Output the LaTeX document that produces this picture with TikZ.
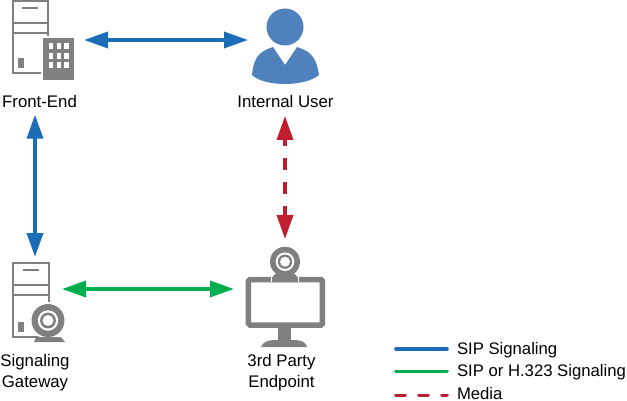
\documentclass[tikz,border=0pt]{standalone}
\usepackage{fontspec}
\setmainfont{Liberation Sans}
\usetikzlibrary{arrows.meta}

\definecolor{sipblue}{HTML}{1B6DB8}
\definecolor{sipgreen}{HTML}{00AE4F}
\definecolor{mediared}{HTML}{BE1E2D}
\definecolor{usercolor}{HTML}{4F81BD}
\definecolor{icongray}{HTML}{808080}

\tikzset{
    spot/.style = {inner sep=0pt, outer sep=0pt},
    caption/.style = {inner sep=0pt, outer sep=0pt, align=center, font=\fontsize{16.8}{21}\selectfont},
    keytext/.style = {inner sep=0pt, outer sep=0pt, anchor=base west, font=\fontsize{16.7}{20}\selectfont},
    link/.style = {line width=3.6pt, {Triangle[length=24pt,width=16pt]}-{Triangle[length=24pt,width=16pt]}},
    sip/.style = {link, sipblue},
    h323/.style = {link, sipgreen},
    media/.style = {link, mediared, dash pattern=on 12pt off 12pt, dash phase=5pt},
    keyline/.style = {line width=3.6pt, line cap=round},
    iconline/.style = {draw=icongray, line width=2pt},
    iconfill/.style = {fill=icongray},
}

% tower case, #1 = left, #2 = top, #3 = bottom
\newcommand{\towercase}[3]{
    \draw[iconline] (#1,#2) rectangle (#1+35.5,#3);
    \draw[iconline] (#1,#2+22) -- (#1+35.5,#2+22);
    \draw[iconline] (#1,#2+32) -- (#1+35.5,#2+32);
    \draw[iconline] (#1+9.5,#2+7) -- (#1+25.5,#2+7);
    \fill[iconfill] (#1+5,#3-15) rectangle (#1+11,#3-5);
}

% webcam ball, #1 = x, #2 = y, #3 = radius
\newcommand{\camball}[3]{
    \fill[iconfill] (#1,#2) circle (#3);
    \fill[white] (#1,#2) circle (#3*0.62);
    \fill[iconfill] (#1,#2) circle (#3*0.48);
    \fill[white] (#1,#2) circle (#3*0.33);
}

\begin{document}
\begin{tikzpicture}[x=1pt, y=-1pt]
    \useasboundingbox (0,0) rectangle (627,401);

    % anchor boxes for the icons
    \node[spot, minimum width=84pt, minimum height=76pt] (frontend) at (42,40) {};
    \node[spot, minimum width=76pt, minimum height=84pt] (user) at (286,40) {};
    \node[spot, minimum width=54pt, minimum height=64pt] (gateway) at (35,289) {};
    \node[spot, minimum width=102pt, minimum height=100pt] (endpoint) at (285,289) {};

    % front end server and building
    \towercase{12.5}{1}{73}
    \fill[white] (41,36) rectangle (75,82);
    \fill[iconfill] (43.3,38.3) rectangle (73.5,80);
    \foreach \col in {48.8,56.6,64} {
        \foreach \row in {43.5,53,62.5} {
            \fill[white] (\col,\row) rectangle (\col+4.5,\row+6);
        }
    }

    % internal user
    \fill[usercolor] (285,27) circle (18.5);
    \fill[usercolor] (273,47) -- (285,65) -- (297,47)
        .. controls (308,51) and (316,54) .. (319,75)
        .. controls (312,81) and (298,84) .. (285,84)
        .. controls (272,84) and (258,81) .. (252,75)
        .. controls (254,54) and (262,51) .. (273,47) -- cycle;

    % gateway server and webcam
    \towercase{13}{263}{337}
    \fill[white] (48,320.5) circle (18.5);
    \camball{48}{320.5}{16.5}
    \fill[iconfill] (34,342) -- (36,337) -- (61,337) -- (65,342) -- cycle;

    % endpoint monitor and webcam
    \draw[icongray, line width=5.5pt, rounded corners=1.5pt] (248.4,279.5) rectangle (322.4,325);
    \fill[iconfill] (278,327) rectangle (291,342);
    \fill[iconfill] (261,347) .. controls (263,342) and (268,340) .. (275,340)
        -- (294,340) .. controls (301,340) and (306,342) .. (307,347) -- cycle;
    \camball{285}{261.7}{15}
    \fill[iconfill] (272,282) -- (272,278) -- (275,274) -- (295,274) -- (298,278) -- (298,282) -- cycle;
    \draw[white, line width=0.7pt] (271.5,277) -- (271.5,282) (298.5,277) -- (298.5,282);

    % captions
    \node[caption] (frontendlabel) at (39.5,101) {Front-End};
    \node[caption, minimum height=30pt] (userlabel) at (285.5,101) {Internal User};
    \node[caption] (gatewaylabel) at (35,372.5) {Signaling\\Gateway};
    \node[caption] (endpointlabel) at (281.5,373) {3rd Party\\Endpoint};

    % signaling paths
    \draw[sip] (frontend.east) -- (user.west);
    \draw[sip] ([yshift=-7.5pt]frontendlabel.south -| gateway.north) -- (gateway.north);
    \draw[h323] (gateway.east) -- (endpoint.west);
    \draw[media] (userlabel.south -| endpoint.north) -- (endpoint.north);

    % key
    \node[keytext] (sipkey) at (457,354) {SIP Signaling};
    \node[keytext] (h323key) at (457,376.5) {SIP or H.323 Signaling};
    \node[keytext] (mediakey) at (457,399.5) {Media};
    \coordinate (sipstart) at (396,348.7);
    \coordinate (h323start) at (396,371.3);
    \coordinate (mediastart) at (396,395.3);
    \draw[keyline, sipblue] (sipstart) -- ([xshift=-10pt]sipkey.west |- sipstart);
    \draw[keyline, sipgreen] (h323start) -- ([xshift=-10pt]h323key.west |- h323start);
    \draw[keyline, mediared, dash pattern=on 9pt off 14pt] (mediastart) -- ([xshift=-10pt]mediakey.west |- mediastart);
\end{tikzpicture}
\end{document}
